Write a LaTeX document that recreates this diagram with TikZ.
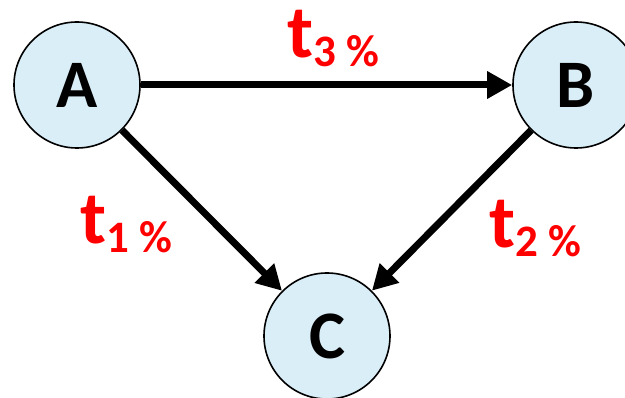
\documentclass[tikz,border=0pt]{standalone}
\usepackage{fontspec}
\setmainfont{Carlito}
\usepackage{tikz}
\usetikzlibrary{arrows.meta,positioning}
\definecolor{NodeFill}{HTML}{DAEEF8}
\definecolor{RateRed}{HTML}{FF0000}
\newcommand{\rate}[1]{{\fontsize{75}{75}\selectfont t}{\fontsize{45}{45}\selectfont\raisebox{-9pt}{#1 \%}}}

\begin{document}
\begin{tikzpicture}[
  x=1pt, y=1pt,
  state/.style={circle, draw=black, fill=NodeFill, line width=1.6pt,
                minimum size=126pt, inner sep=0pt,
                font=\fontsize{68}{68}\selectfont\bfseries},
  rate/.style={text=RateRed, font=\bfseries, inner sep=0pt},
  arrow/.style={-{Triangle[length=25pt,width=26pt]}, draw=black, line width=7pt},
]
\useasboundingbox (0,0) rectangle (625,397);
\node[state] (A) at (77,312)  {A};
\node[state] (B) at (576,312) {B};
\node[state] (C) at (327,61)  {C};
\node[rate] (t3) at (333,358) {\rate{3}};
\node[rate] (t1) at (126,172) {\rate{1}};
\node[rate] (t2) at (535,168) {\rate{2}};
\draw[arrow] (A) -- (B);
\draw[arrow] (A) -- (C);
\draw[arrow] (B) -- (C);
\end{tikzpicture}
\end{document}
